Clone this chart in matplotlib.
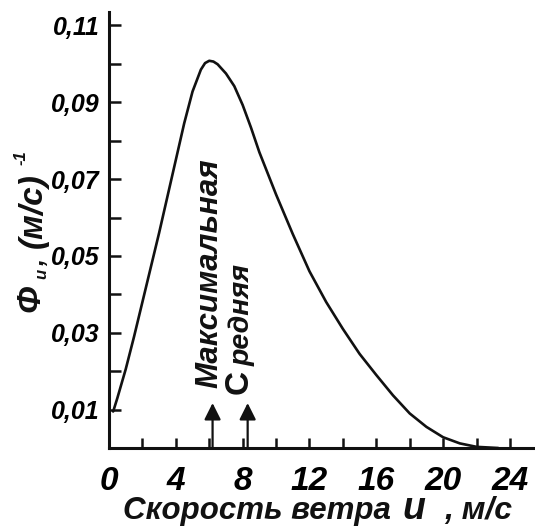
import matplotlib
matplotlib.use("Agg")
import matplotlib.pyplot as plt
from matplotlib.ticker import FixedLocator

# ---- data ----
wind_speed = [0.25, 0.5, 1.0, 1.5, 2.0, 2.5, 3.0, 3.5, 4.0, 4.5, 5.0, 5.5, 5.75,
              6.0, 6.25, 6.5, 7.0, 7.5, 8.0, 8.5, 9.0, 9.5, 10.0, 11.0, 12.0,
              13.0, 14.0, 15.0, 16.0, 17.0, 18.0, 19.0, 20.0, 21.0, 22.0, 23.3]
density = [0.0095, 0.013, 0.0205, 0.029, 0.038, 0.047, 0.056, 0.0655, 0.075,
           0.0845, 0.0928, 0.0985, 0.1002, 0.1008, 0.1006, 0.0999, 0.0975,
           0.0942, 0.0893, 0.0834, 0.077, 0.0715, 0.066, 0.0557, 0.046,
           0.038, 0.031, 0.0245, 0.019, 0.0137, 0.009, 0.0055, 0.0028,
           0.0012, 0.0003, 0.0]
x_major = [0, 4, 8, 12, 16, 20, 24]
x_major_labels = ["0", "4", "8", "12", "16", "20", "24"]
x_minor = [2, 6, 10, 14, 18, 22]
y_major = [0.01, 0.03, 0.05, 0.07, 0.09, 0.11]
y_major_labels = ["0,01", "0,03", "0,05", "0,07", "0,09", "0,11"]
y_minor = [0.02, 0.04, 0.06, 0.08, 0.10]
u_max = 6.2      # most probable speed (arrow)
u_mean = 8.3     # mean speed (arrow)
arrow_top = 0.0117

FONT = "Liberation Sans"
W, H = 535, 527
fig = plt.figure(figsize=(W / 100, H / 100), dpi=100)
ax = fig.add_axes([109 / W, (H - 448) / H, 426 / W, 436 / H])

ax.plot(wind_speed, density, color="#111111", lw=1.9, clip_on=False,
        solid_capstyle="round", solid_joinstyle="round")

ax.set_xlim(0, 25.5)
ax.set_ylim(0, 0.1135)

for s in ["top", "right"]:
    ax.spines[s].set_visible(False)
for s in ["left", "bottom"]:
    ax.spines[s].set_linewidth(2.2)
    ax.spines[s].set_color("#111111")

ax.xaxis.set_major_locator(FixedLocator(x_major))
ax.xaxis.set_minor_locator(FixedLocator(x_minor))
ax.set_xticklabels(x_major_labels)
ax.yaxis.set_major_locator(FixedLocator(y_major))
ax.yaxis.set_minor_locator(FixedLocator(y_minor))
ax.set_yticklabels(y_major_labels)

ax.tick_params(axis="x", which="both", direction="in", length=7, width=1.8,
               color="#111111", pad=13)
ax.tick_params(axis="y", which="both", direction="in", length=8.5, width=1.8,
               color="#111111", pad=6.5)
for lab in ax.get_xticklabels():
    lab.set_fontfamily(FONT)
    lab.set_fontweight("bold")
    lab.set_fontstyle("italic")
    lab.set_fontsize(24)
for lab in ax.get_yticklabels():
    lab.set_fontfamily(FONT)
    lab.set_fontweight("bold")
    lab.set_fontstyle("italic")
    lab.set_fontsize(18)

# arrows
for u in (u_max, u_mean):
    ax.annotate("", xy=(u, arrow_top), xytext=(u, 0),
                arrowprops=dict(arrowstyle="-|>,head_length=1.0,head_width=0.5",
                                color="#111111", lw=1.6, shrinkA=0, shrinkB=0))

tk = dict(family=FONT, weight="bold", style="italic", color="#111111")

def px(x, y):
    return x / W, 1 - y / H

# vertical annotations
fig.text(*px(209, 388), "Максимальная", rotation=90, ha="center", va="bottom",
         fontsize=22.5, **tk)
fig.text(*px(239, 394), "С", rotation=90, ha="center", va="bottom",
         fontsize=24, family=FONT, weight="bold", color="#111111")
fig.text(*px(242, 366), "редняя", rotation=90, ha="center", va="bottom",
         fontsize=20.5, **tk)

# x-axis label
fig.text(*px(123, 519), "Скорость ветра", ha="left", va="baseline",
         fontsize=22.5, **tk)
fig.text(*px(402, 519), "u", ha="left", va="baseline", fontsize=27, **tk)
fig.text(*px(444, 519), ", м/с", ha="left", va="baseline", fontsize=23, **tk)

# y-axis label
fig.text(*px(31, 298), "Φ", rotation=90, ha="center", va="center",
         fontsize=24, **tk)
fig.text(*px(42, 274), "u", rotation=90, ha="center", va="center",
         fontsize=12, **tk)
fig.text(*px(37, 263), ",", rotation=90, ha="center", va="center",
         fontsize=18, **tk)
fig.text(*px(33, 211), "(м/с)", rotation=90, ha="center", va="center",
         fontsize=24, **tk)
fig.text(*px(21, 158), "-1", rotation=90, ha="center", va="center",
         fontsize=12, **tk)

fig.savefig("out.png", dpi=100, facecolor="white")
